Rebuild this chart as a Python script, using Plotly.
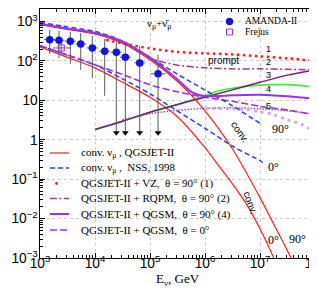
import plotly.graph_objects as go

# ---------------- data (E in GeV, flux-type quantity on y) ----------------
# conventional nu_mu, QGSJET-II (red solid), theta = 90 deg and 0 deg
E_conv_qgs_90 = [1e3, 3.16e3, 1e4, 3.16e4, 1e5, 3.16e5, 1e6, 3.16e6, 1e7, 1.78e7, 3.16e7, 3.98e7]
F_conv_qgs_90 = [830, 632, 483, 282, 107, 30.1, 5.42, 0.582, 0.034, 0.0072, 0.00153, 0.00079]
E_conv_qgs_0 = [1e3, 3.16e3, 1e4, 3.16e4, 1e5, 3.16e5, 1e6, 1.78e6, 3.16e6, 5.62e6, 1e7, 1.78e7, 2e7]
F_conv_qgs_0 = [226, 123, 66.5, 28.6, 11.9, 3.82, 0.627, 0.218, 0.076, 0.0236, 0.0055, 0.001, 0.00068]

# conventional nu_mu, NSS 1998 (blue dashed)
E_conv_nss_90 = [1e3, 3.16e3, 1e4, 3.16e4, 1e5, 3.16e5, 1e6, 3.16e6, 1e7]
F_conv_nss_90 = [944, 727, 558, 320, 123, 45.8, 18.2, 7.26, 2.6]
E_conv_nss_0 = [1e3, 3.16e3, 1e4, 3.16e4, 1e5, 3.16e5, 1e6, 3.16e6, 1e7, 1.12e7]
F_conv_nss_0 = [240, 138, 79.2, 35, 14.6, 5.33, 1.95, 0.684, 0.294, 0.26]

# QGSJET-II + VZ, 90 deg (1)
E_vz_90 = [1.58e4, 3.16e4, 1e5, 3.16e5, 1e6, 3.16e6, 1e7, 3.16e7, 1e8]
F_vz_90 = [340, 277, 207, 169, 155, 146, 130, 116, 100]

# QGSJET-II + RQPM, 90 deg (2)
E_rqpm_90 = [1e3, 3.16e3, 1e4, 3.16e4, 1e5, 1.4e5, 3.16e5, 1e6, 3.16e6, 1e7, 3.16e7, 1e8]
F_rqpm_90 = [855, 653, 497, 286, 119, 100, 77.8, 66.5, 62.7, 62.7, 60.9, 59.2]

# prompt curve 3 (dark purple) and green prompt curve
E_prompt3 = [1e4, 3.16e4, 1e5, 3.16e5, 1e6, 3.16e6, 1e7, 3.16e7, 1e8]
F_prompt3 = [1.82, 2.94, 5.0, 7.87, 12.0, 18.4, 28.6, 43.5, 59.2]
E_prompt_green = [1e4, 3.16e4, 1e5, 3.16e5, 1e6, 1.78e6, 3.16e6, 5.62e6, 1e7, 3.16e7, 1e8]
F_prompt_green = [1.82, 2.94, 5.0, 7.87, 13.0, 17.4, 20.1, 22.6, 24.3, 25.0, 22.0]

# QGSJET-II + QGSM, 90 deg (4) and 0 deg
E_qgsm_90 = [1e3, 3.16e3, 1e4, 3.16e4, 1e5, 3.16e5, 5.62e5, 1e6, 3.16e6, 1e7, 3.16e7, 1e8]
F_qgsm_90 = [864, 665, 512, 312, 119, 33.8, 16.4, 12.8, 13.4, 13.9, 12.6, 10.9]
E_qgsm_0 = [1e3, 3.16e3, 1e4, 3.16e4, 1e5, 3.16e5, 1e6, 3.16e6, 1e7, 3.16e7, 1e8]
F_qgsm_0 = [247, 142, 79.2, 45.5, 24.7, 16.4, 11.9, 9.44, 7.05, 5.65, 4.3]

# curve 5 (purple dotted) and lavender dotted curve
E_curve5 = [3.16e4, 1e5, 3.16e5, 1e6, 3.16e6, 1e7, 3.16e7, 1e8]
F_curve5 = [3.2, 4.55, 5.58, 6.27, 6.46, 6.09, 5.42, 4.43]
E_lav = [1e6, 3.16e6, 5.62e6, 1e7, 1.78e7, 3.16e7, 5.62e7, 8e7, 1e8]
F_lav = [6.27, 6.09, 5.85, 5.12, 4.3, 3.2, 2.47, 1.9, 1.69]

# AMANDA-II unfolded spectrum
E_amanda = [1500, 2215, 3560, 5500, 8930, 15000, 24400, 35600, 65000, 140000]
E_amanda_lo = [1190, 1760, 2830, 4370, 7090, 11900, 19400, 28300, 51600, 102000]
E_amanda_hi = [1890, 2790, 4480, 6920, 11240, 18900, 30700, 44800, 81800, 192000]
F_amanda = [346, 334, 315, 269, 213, 176, 166, 124, 89, 47]
F_amanda_hi = [609, 575, 542, 512, 430, 361, 321, 286, 240, 142]
F_amanda_lo = [150, 119, 84, 59, 37, 13, 1.5, 1.5, 1.5, 1.5]
E_limits = [24400, 35600, 65000, 140000]
F_limits = [1.5, 1.5, 1.5, 1.5]

# Frejus
E_frejus = [2440]
E_frejus_lo = [1720]
E_frejus_hi = [3510]
F_frejus = [213]
F_frejus_hi = [321]
F_frejus_lo = [142]

# ---------------- styles ----------------
RED = '#ff1f1f'
BLUE = '#2440ff'
VIOLET = '#9a30f0'
DASHDOT = '#9c3c9c'
DARKP = '#7a1c7a'
GREEN = '#3ae83a'
DOT5 = '#a448b4'
LAV = '#dca8e4'
AMBLUE = '#1212e6'
FREJ = '#9a36d0'
SERIF = 'Liberation Serif, Times New Roman, serif'
SANS = 'Liberation Sans, Arial, sans-serif'

W, H = 317, 288
ML, MR, MT, MB = 32, 10, 1, 38
PW, PH = W - ML - MR, H - MT - MB


def px(x):
    return (x - ML) / PW


def py(y):
    return (H - MB - y) / PH


fig = go.Figure()


def curve(E, F, color, width, dash='solid', smooth=0.8):
    fig.add_trace(go.Scatter(
        x=E, y=F, mode='lines',
        line=dict(color=color, width=width, dash=dash, shape='spline', smoothing=smooth),
        showlegend=False, hoverinfo='skip'))


curve(E_conv_qgs_0, F_conv_qgs_0, RED, 1.2)
curve(E_conv_nss_0, F_conv_nss_0, BLUE, 1.5, '5px,3px')
curve(E_curve5, F_curve5, DOT5, 1.5, '1.5px,1.5px')
curve(E_lav, F_lav, LAV, 3, '3px,4px')
curve(E_qgsm_0, F_qgsm_0, VIOLET, 1.6, '7px,3px')
curve(E_prompt_green, F_prompt_green, GREEN, 1.6)
curve(E_prompt3, F_prompt3, DARKP, 1.5)
curve(E_conv_nss_90, F_conv_nss_90, BLUE, 1.5, '5px,3px')
curve(E_conv_qgs_90, F_conv_qgs_90, RED, 1.2)
curve(E_rqpm_90, F_rqpm_90, DASHDOT, 1.5, '7px,2.5px,2px,2.5px')
curve(E_qgsm_90, F_qgsm_90, VIOLET, 2, 'solid', 0.6)
curve(E_vz_90, F_vz_90, RED, 2.5, '2.5px,3.5px')

# Frejus
fig.add_trace(go.Scatter(
    x=E_frejus, y=F_frejus, mode='markers',
    marker=dict(symbol='square-open', size=6, color=FREJ, line=dict(width=1, color=FREJ)),
    error_x=dict(type='data', symmetric=False,
                 array=[h - e for h, e in zip(E_frejus_hi, E_frejus)],
                 arrayminus=[e - l for e, l in zip(E_frejus, E_frejus_lo)],
                 color=FREJ, thickness=1, width=0),
    error_y=dict(type='data', symmetric=False,
                 array=[h - f for h, f in zip(F_frejus_hi, F_frejus)],
                 arrayminus=[f - l for f, l in zip(F_frejus, F_frejus_lo)],
                 color=FREJ, thickness=1, width=0),
    showlegend=False, hoverinfo='skip'))

# AMANDA-II
fig.add_trace(go.Scatter(
    x=E_amanda, y=F_amanda, mode='markers',
    marker=dict(symbol='circle', size=7.5, color=AMBLUE),
    error_x=dict(type='data', symmetric=False,
                 array=[h - e for h, e in zip(E_amanda_hi, E_amanda)],
                 arrayminus=[e - l for e, l in zip(E_amanda, E_amanda_lo)],
                 color='#5a5a5a', thickness=1, width=0),
    error_y=dict(type='data', symmetric=False,
                 array=[h - f for h, f in zip(F_amanda_hi, F_amanda)],
                 arrayminus=[f - l for f, l in zip(F_amanda, F_amanda_lo)],
                 color='#5a5a5a', thickness=1, width=0),
    showlegend=False, hoverinfo='skip'))
fig.add_trace(go.Scatter(
    x=E_limits, y=F_limits, mode='markers',
    marker=dict(symbol='triangle-down', size=6, color='black'),
    showlegend=False, hoverinfo='skip'))

# ---------------- text labels ----------------
ann = []


def text(x, y, s, size, family, angle=0, xanchor='center', color='black'):
    ann.append(dict(x=px(x), y=py(y), xref='paper', yref='paper', text=s, showarrow=False,
                    font=dict(size=size, family=family, color=color), textangle=angle,
                    xanchor=xanchor, yanchor='middle'))


text(151, 16, 'ν<sub>μ</sub>+ν̄<sub>μ</sub>', 11, SERIF)
text(215, 52, 'prompt', 10, SANS)
for lab, yy in zip(['1', '2', '3', '4', '5'], [41, 54, 67, 81, 98]):
    text(260, yy, lab, 9, SANS)
text(232, 123, 'conv.', 10, SANS, angle=55)
text(243, 195, 'conv.', 10, SANS, angle=70)
text(272, 121, '90°', 12, SERIF)
text(265, 159, '0°', 12, SERIF)
text(265, 232, '0°', 12, SERIF)
text(289, 231, '90°', 12, SERIF)

# upper legend
text(235, 13.5, 'AMANDA-II', 9.5, SERIF, xanchor='left')
text(235, 24, 'Frejus', 9.5, SERIF, xanchor='left')

shapes = []
shapes.append(dict(type='circle', xref='paper', yref='paper', xsizemode='pixel', ysizemode='pixel',
                   xanchor=px(221.5), yanchor=py(13.5), x0=-3.7, x1=3.7, y0=-3.7, y1=3.7,
                   fillcolor=AMBLUE, line=dict(width=0)))
shapes.append(dict(type='rect', xref='paper', yref='paper', xsizemode='pixel', ysizemode='pixel',
                   xanchor=px(221.5), yanchor=py(24), x0=-3, x1=3, y0=-3, y1=3,
                   line=dict(width=1, color=FREJ)))

# lower legend
leg_rows = [145, 160, 175.5, 190.5, 206, 222]
leg_texts = [
    'conv. ν<sub>μ</sub> , QGSJET-II',
    'conv. ν<sub>μ</sub> ,  NSS, 1998',
    'QGSJET-II + VZ,  θ = 90° (1)',
    'QGSJET-II + RQPM,  θ = 90° (2)',
    'QGSJET-II + QGSM,  θ = 90° (4)',
    'QGSJET-II + QGSM,  θ = 0°',
]
leg_styles = [
    (RED, 1.2, 'solid'),
    (BLUE, 1.5, '5px,3px'),
    None,
    (DASHDOT, 1.5, '7px,2.5px,2px,2.5px'),
    (VIOLET, 2, 'solid'),
    (VIOLET, 1.6, '7px,3px'),
]
for yy, s, st in zip(leg_rows, leg_texts, leg_styles):
    text(71, yy, s, 11, SERIF, xanchor='left')
    if st is None:
        shapes.append(dict(type='circle', xref='paper', yref='paper', xsizemode='pixel',
                           ysizemode='pixel', xanchor=px(48.5), yanchor=py(yy),
                           x0=-1.4, x1=1.4, y0=-1.4, y1=1.4, fillcolor=RED, line=dict(width=0)))
    else:
        c, w, d = st
        shapes.append(dict(type='line', xref='paper', yref='paper', x0=px(42), x1=px(61),
                           y0=py(yy), y1=py(yy), line=dict(color=c, width=w, dash=d)))

axis_common = dict(
    type='log', showline=True, linecolor='black', linewidth=1.2, mirror='allticks',
    ticks='inside', ticklen=5, tickwidth=1, tickcolor='black', dtick=1,
    exponentformat='power', showexponent='all', ticklabeloverflow='allow',
    minor=dict(ticks='inside', ticklen=3, tickwidth=0.8, tickcolor='black', dtick='D1', showgrid=False),
    showgrid=True, gridcolor='#cdcdcd', gridwidth=1, griddash='dot', zeroline=False,
    tickfont=dict(family=SANS, size=11, color='black'),
)

fig.update_layout(
    width=W, height=H,
    margin=dict(l=ML, r=MR, t=MT, b=MB, pad=0),
    paper_bgcolor='white', plot_bgcolor='white',
    xaxis=dict(range=[3, 8], ticklabelstandoff=-7,
               title=dict(text='E<sub>ν</sub>, GeV', standoff=0,
                          font=dict(family=SERIF, size=13, color='black')),
               **axis_common),
    yaxis=dict(range=[-3, 3.316], ticklabelstandoff=-1, **axis_common),
    annotations=ann, shapes=shapes, showlegend=False,
)

fig.write_html('out.html')
